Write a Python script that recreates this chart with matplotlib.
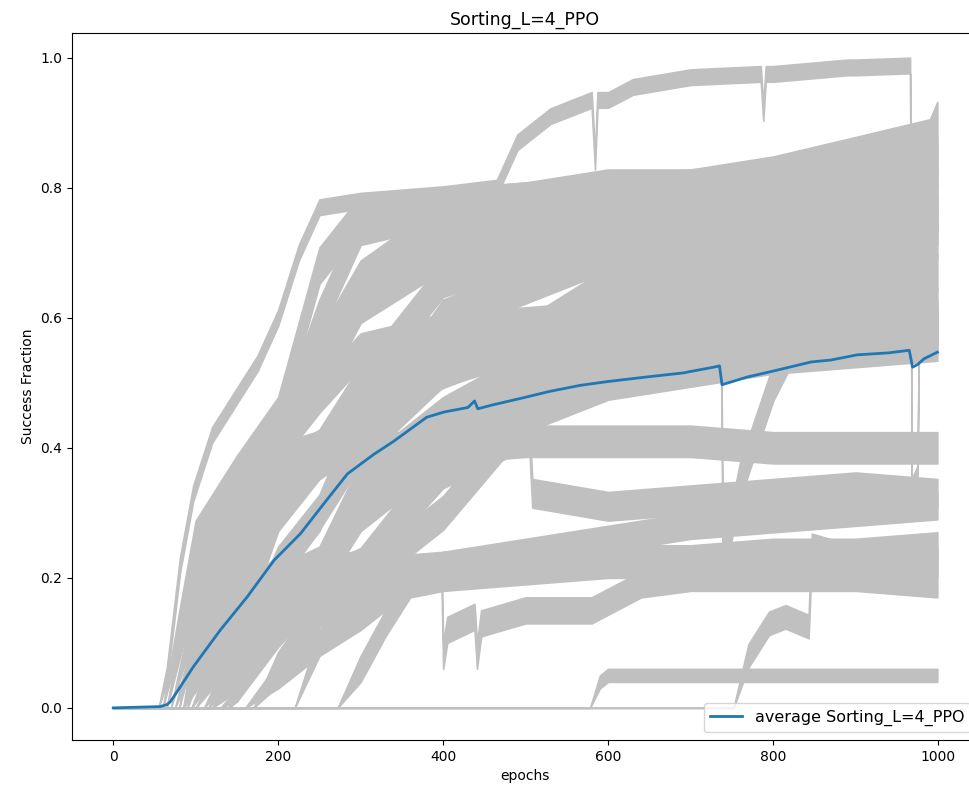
import numpy as np
import matplotlib.pyplot as plt

# per-run success fraction, (epoch, value) keypoints
run01_ep = [0, 55, 65, 81, 97, 120, 150, 175, 200, 225, 250, 300, 400, 465, 490, 500, 530, 580, 584, 587,
            600, 630, 700, 785, 788, 791, 800, 890, 900, 966, 968, 975, 979, 999]
run01_val = [0, 0, 0.05, 0.22, 0.33, 0.42, 0.48, 0.53, 0.6, 0.7, 0.77, 0.78, 0.79, 0.8, 0.87, 0.88, 0.91, 0.935, 0.84, 0.935,
             0.935, 0.955, 0.97, 0.975, 0.915, 0.975, 0.975, 0.985, 0.985, 0.988, 0.34, 0.36, 0.86, 0.92]
run02_ep = [0, 60, 80, 100, 150, 200, 250, 300, 400, 500, 600, 700, 800, 900, 999]
run02_val = [0, 0, 0.12, 0.26, 0.36, 0.45, 0.68, 0.76, 0.77, 0.78, 0.79, 0.8, 0.82, 0.85, 0.88]
run03_ep = [0, 65, 100, 150, 200, 250, 300, 400, 500, 600, 700, 800, 900, 999]
run03_val = [0, 0, 0.2, 0.33, 0.42, 0.6, 0.74, 0.77, 0.78, 0.8, 0.8, 0.81, 0.82, 0.85]
run04_ep = [0, 70, 100, 150, 200, 250, 300, 400, 500, 600, 700, 800, 900, 999]
run04_val = [0, 0, 0.15, 0.28, 0.4, 0.55, 0.66, 0.75, 0.76, 0.77, 0.78, 0.79, 0.8, 0.83]
run05_ep = [0, 75, 100, 150, 200, 250, 300, 400, 500, 600, 700, 800, 900, 999]
run05_val = [0, 0, 0.1, 0.22, 0.38, 0.5, 0.62, 0.7, 0.74, 0.75, 0.76, 0.77, 0.78, 0.8]
run06_ep = [0, 85, 100, 150, 200, 250, 300, 400, 500, 600, 700, 800, 900, 999]
run06_val = [0, 0, 0.05, 0.18, 0.36, 0.4, 0.5, 0.66, 0.7, 0.72, 0.74, 0.75, 0.76, 0.78]
run07_ep = [0, 95, 150, 200, 250, 300, 400, 500, 600, 700, 736, 739, 760, 800, 860, 900, 999]
run07_val = [0, 0, 0.12, 0.3, 0.38, 0.42, 0.6, 0.65, 0.7, 0.72, 0.72, 0.22, 0.35, 0.5, 0.65, 0.7, 0.76]
run08_ep = [0, 110, 150, 200, 250, 300, 400, 500, 600, 700, 800, 900, 999]
run08_val = [0, 0, 0.08, 0.22, 0.3, 0.45, 0.52, 0.57, 0.65, 0.68, 0.7, 0.72, 0.74]
run09_ep = [0, 120, 150, 200, 250, 300, 400, 500, 600, 700, 800, 900, 999]
run09_val = [0, 0, 0.05, 0.19, 0.22, 0.35, 0.45, 0.52, 0.62, 0.65, 0.68, 0.7, 0.72]
run10_ep = [0, 130, 150, 200, 250, 300, 400, 500, 600, 700, 800, 900, 999]
run10_val = [0, 0, 0.02, 0.15, 0.2, 0.3, 0.4, 0.48, 0.58, 0.61, 0.63, 0.65, 0.67]
run11_ep = [0, 65, 100, 150, 200, 250, 300, 400, 500, 600, 700, 800, 900, 999]
run11_val = [0, 0, 0.22, 0.35, 0.4, 0.48, 0.55, 0.58, 0.59, 0.6, 0.6, 0.61, 0.61, 0.62]
run12_ep = [0, 80, 100, 150, 200, 250, 300, 400, 500, 600, 700, 800, 900, 999]
run12_val = [0, 0, 0.12, 0.25, 0.38, 0.4, 0.48, 0.55, 0.57, 0.57, 0.58, 0.58, 0.59, 0.6]
run13_ep = [0, 90, 100, 150, 200, 250, 300, 400, 500, 600, 700, 800, 900, 999]
run13_val = [0, 0, 0.06, 0.15, 0.21, 0.3, 0.4, 0.52, 0.56, 0.57, 0.58, 0.58, 0.59, 0.59]
run14_ep = [0, 100, 150, 200, 250, 300, 400, 500, 600, 700, 800, 900, 999]
run14_val = [0, 0, 0.1, 0.2, 0.21, 0.3, 0.45, 0.52, 0.55, 0.56, 0.57, 0.57, 0.58]
run15_ep = [0, 140, 150, 200, 250, 300, 400, 500, 600, 700, 800, 900, 999]
run15_val = [0, 0, 0.02, 0.12, 0.19, 0.22, 0.38, 0.48, 0.52, 0.54, 0.55, 0.56, 0.57]
run16_ep = [0, 170, 200, 250, 300, 400, 500, 600, 700, 800, 900, 999]
run16_val = [0, 0, 0.06, 0.15, 0.2, 0.3, 0.45, 0.5, 0.52, 0.54, 0.55, 0.56]
run17_ep = [0, 85, 100, 150, 200, 250, 300, 400, 500, 600, 700, 800, 900, 999]
run17_val = [0, 0, 0.1, 0.28, 0.37, 0.39, 0.4, 0.4, 0.41, 0.41, 0.41, 0.4, 0.4, 0.4]
run18_ep = [0, 115, 150, 200, 250, 300, 400, 500, 504, 508, 600, 700, 800, 900, 999]
run18_val = [0, 0, 0.06, 0.2, 0.21, 0.22, 0.36, 0.42, 0.43, 0.33, 0.31, 0.32, 0.33, 0.34, 0.33]
run19_ep = [0, 220, 250, 300, 400, 500, 600, 700, 800, 900, 999]
run19_val = [0, 0, 0.1, 0.17, 0.22, 0.24, 0.26, 0.28, 0.29, 0.3, 0.31]
run20_ep = [0, 95, 150, 200, 250, 300, 400, 500, 600, 700, 800, 900, 999]
run20_val = [0, 0, 0.17, 0.2, 0.2, 0.21, 0.22, 0.22, 0.23, 0.23, 0.24, 0.24, 0.25]
run21_ep = [0, 272, 300, 330, 360, 400, 500, 600, 700, 800, 900, 999]
run21_val = [0, 0, 0.06, 0.13, 0.19, 0.2, 0.21, 0.22, 0.22, 0.22, 0.23, 0.23]
run22_ep = [0, 160, 200, 250, 300, 360, 398, 400, 405, 438, 441, 446, 500, 580, 640, 700, 800, 900, 999]
run22_val = [0, 0, 0.05, 0.1, 0.14, 0.2, 0.21, 0.08, 0.12, 0.14, 0.08, 0.13, 0.15, 0.15, 0.19, 0.2, 0.2, 0.2, 0.19]
run23_ep = [0, 752, 770, 795, 815, 843, 847, 900, 999]
run23_val = [0, 0, 0.08, 0.13, 0.14, 0.125, 0.25, 0.23, 0.22]
run24_ep = [0, 578, 590, 600, 999]
run24_val = [0, 0, 0.04, 0.05, 0.05]

# half-width of the epoch-to-epoch jitter band of each run
run_spread = [0.012, 0.028, 0.028, 0.028, 0.028, 0.028, 0.028, 0.028, 0.028, 0.028, 0.026, 0.026,
              0.026, 0.026, 0.026, 0.026, 0.024, 0.022, 0.02, 0.02, 0.02, 0.02, 0.018, 0.01]

# average over runs
avg_ep = [0, 57, 65, 69, 77, 97, 130, 162, 195, 227, 259, 284, 316, 340, 380, 401, 430, 438, 442, 460,
          494, 530, 566, 600, 647, 690, 728, 735, 738, 769, 800, 846, 870, 902, 940, 965, 969, 975, 983, 999]
avg_val = [0, 0.002, 0.005, 0.009, 0.024, 0.063, 0.12, 0.17, 0.227, 0.268, 0.32, 0.36, 0.39, 0.41, 0.447, 0.455,
           0.462, 0.472, 0.46, 0.466, 0.476, 0.487, 0.496, 0.502, 0.509, 0.515, 0.524, 0.526, 0.497, 0.509,
           0.518, 0.532, 0.535, 0.543, 0.546, 0.55, 0.524, 0.528, 0.537, 0.547]

runs = [
    (run01_ep, run01_val), (run02_ep, run02_val), (run03_ep, run03_val), (run04_ep, run04_val),
    (run05_ep, run05_val), (run06_ep, run06_val), (run07_ep, run07_val), (run08_ep, run08_val),
    (run09_ep, run09_val), (run10_ep, run10_val), (run11_ep, run11_val), (run12_ep, run12_val),
    (run13_ep, run13_val), (run14_ep, run14_val), (run15_ep, run15_val), (run16_ep, run16_val),
    (run17_ep, run17_val), (run18_ep, run18_val), (run19_ep, run19_val), (run20_ep, run20_val),
    (run21_ep, run21_val), (run22_ep, run22_val), (run23_ep, run23_val), (run24_ep, run24_val),
]

name = "Sorting_L=4_PPO"

fig = plt.figure(figsize=(9.69, 7.9), dpi=100)
ax = fig.add_axes([72 / 969, 50 / 790, 906.5 / 969, 706.7 / 790])

for (ep, val), w in zip(runs, run_spread):
    ep = np.asarray(ep, dtype=float)
    val = np.asarray(val, dtype=float)
    half = np.minimum(w, val / 2)
    ax.fill_between(ep, val - half, val + half, color="silver", lw=1.2, zorder=1)

ax.plot(avg_ep, avg_val, color="#1f77b4", lw=2.0, zorder=3, label="average " + name)

ax.set_xlim(-49.95, 1048.95)
ax.set_ylim(-0.0494, 1.0375)
ax.set_xticks([0, 200, 400, 600, 800, 1000])
ax.set_yticks([0.0, 0.2, 0.4, 0.6, 0.8, 1.0])
ax.set_xlabel("epochs")
ax.set_ylabel("Success Fraction")
ax.set_title(name, fontsize=12.5)
ax.legend(loc="lower right", fontsize=11.5)

fig.savefig("out.png", dpi=100)
